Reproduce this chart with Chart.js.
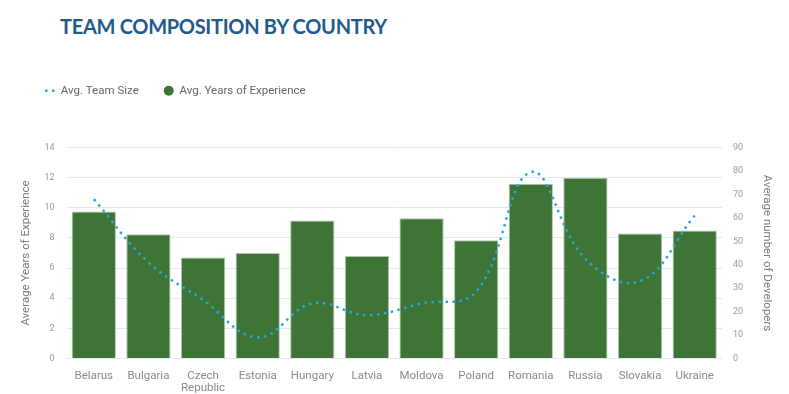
<!DOCTYPE html>
<html>
<head>
<meta charset="utf-8">
<script src="https://cdn.jsdelivr.net/npm/chart.js@4.4.1/dist/chart.umd.min.js"></script>
<style>
  html, body { margin: 0; padding: 0; background: #ffffff; }
  #wrap { position: relative; width: 789px; height: 394px; }
  #title {
    position: absolute; left: 60px; top: 16px; margin: 0;
    font-family: Lato, sans-serif; font-weight: 700; font-size: 20px; line-height: 20px;
    color: #1f5b8d; letter-spacing: -0.3px; white-space: nowrap;
  }
  canvas { position: absolute; left: 0; top: 0; }
</style>
</head>
<body>
<div id="wrap">
  <h1 id="title">TEAM COMPOSITION BY COUNTRY</h1>
  <canvas id="c" width="789" height="394"></canvas>
</div>
<script>
const categories = ['Belarus', 'Bulgaria', 'Czech Republic', 'Estonia', 'Hungary', 'Latvia',
                    'Moldova', 'Poland', 'Romania', 'Russia', 'Slovakia', 'Ukraine'];
const avgYearsExperience = [9.75, 8.25, 6.7, 7.0, 9.15, 6.8, 9.3, 7.85, 11.6, 12.0, 8.3, 8.5];
const avgTeamSize = [68, 41, 25, 9, 23.5, 18.5, 23.5, 28.5, 79.5, 42.5, 33, 61];
const leftTicks = [0, 2, 4, 6, 8, 10, 12, 14];
const rightTicks = [0, 10, 20, 30, 40, 50, 60, 70, 80, 90];

const FONT = 'Roboto, "Liberation Sans", sans-serif';
const LINE_DASH = [2.5, 4.5];

const legendTweak = {
  id: 'legendTweak',
  beforeInit(chart) {
    const fit = chart.legend.fit;
    chart.legend.fit = function () { fit.call(this); this.height += 41; };
  },
  afterLayout(chart) {
    chart.legend.left += 5;
    chart.legend.right += 5;
  }
};

new Chart(document.getElementById('c'), {
  data: {
    labels: categories,
    datasets: [
      {
        type: 'line',
        label: 'Avg. Team Size',
        data: avgTeamSize,
        yAxisID: 'y1',
        borderColor: '#2aa6dc',
        backgroundColor: '#2aa6dc',
        borderWidth: 2.5,
        borderDash: LINE_DASH,
        borderCapStyle: 'butt',
        tension: 0.4,
        pointRadius: 0,
        pointStyle: 'line',
        fill: false,
        order: 0
      },
      {
        type: 'bar',
        label: 'Avg. Years of Experience',
        data: avgYearsExperience,
        yAxisID: 'y',
        backgroundColor: '#3e7436',
        borderColor: 'rgba(170,190,165,0.9)',
        borderWidth: 1,
        categoryPercentage: 0.81,
        barPercentage: 1.0,
        pointStyle: 'circle',
        order: 1
      }
    ]
  },
  options: {
    responsive: false,
    animation: false,
    layout: { padding: { top: 60, left: 15, right: 11, bottom: 0 } },
    plugins: {
      tooltip: { enabled: false },
      legend: {
        position: 'top',
        align: 'start',
        labels: {
          usePointStyle: true,
          boxWidth: 10,
          boxHeight: 7.07,
          padding: 25,
          color: '#666666',
          font: { family: FONT, size: 11.5 },
          generateLabels(chart) {
            const items = Chart.defaults.plugins.legend.labels.generateLabels(chart);
            items.forEach((it, i) => {
              if (i === 0) {
                it.lineDash = LINE_DASH; it.lineWidth = 2.5; it.lineCap = 'butt';
                it.strokeStyle = '#2aa6dc'; it.pointStyle = 'line';
              }
              if (i === 1) { it.strokeStyle = '#3e7436'; it.lineWidth = 0; it.pointStyle = 'circle'; }
            });
            return items;
          }
        }
      }
    },
    scales: {
      x: {
        offset: true,
        grid: { display: false, drawTicks: false },
        border: { display: false },
        ticks: {
          color: '#8a8a8a',
          padding: 12,
          font: { family: FONT, size: 11.5, lineHeight: 1.0 },
          maxRotation: 0,
          autoSkip: false,
          callback(value) {
            const l = categories[value];
            return l.length > 10 ? l.split(' ') : l;
          }
        },
        afterFit(s) { s.height = 35.5; }
      },
      y: {
        position: 'left',
        min: 0, max: 14,
        afterBuildTicks(s) { s.ticks = leftTicks.map(v => ({ value: v })); },
        grid: { color: '#dfe9ee', lineWidth: 1, drawTicks: false },
        border: { display: false },
        ticks: { color: '#9a9a9a', padding: 12, font: { family: FONT, size: 9 } },
        title: {
          display: true, text: 'Average Years of Experience', color: '#7a7a7a',
          font: { family: FONT, size: 11.5 }, padding: { top: 4, bottom: 4 }
        },
        afterFit(s) { s.width = 51.5; }
      },
      y1: {
        position: 'right',
        min: 0, max: 90,
        afterBuildTicks(s) { s.ticks = rightTicks.map(v => ({ value: v })); },
        grid: { display: false, drawTicks: false },
        border: { display: false },
        ticks: { color: '#9a9a9a', padding: 11, font: { family: FONT, size: 9 } },
        title: {
          display: true, text: 'Average number of Developers', color: '#7a7a7a',
          font: { family: FONT, size: 11.5 }, padding: { top: 4, bottom: 4 }
        },
        afterFit(s) { s.width = 56; }
      }
    }
  },
  plugins: [legendTweak]
});
</script>
</body>
</html>
